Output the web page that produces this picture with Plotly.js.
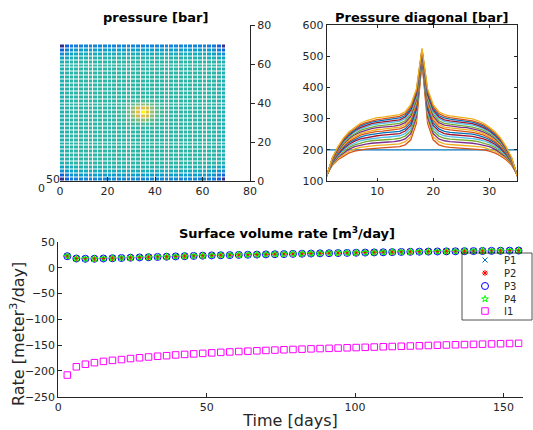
<!DOCTYPE html>
<html><head><meta charset="utf-8">
<script src="https://cdn.plot.ly/plotly-3.0.1.min.js"></script>
<style>html,body{margin:0;padding:0;background:#fff}#chart{width:533px;height:430px}</style>
</head><body><div id="chart"></div>
<script>
// ---------- pressure field (35 x 35 cells, cell size 2) ----------
var cellX = [1,3,5,7,9,11,13,15,17,19,21,23,25,27,29,31,33,35,37,39,41,43,45,47,49,51,53,55,57,59,61,63,65,67,69];
var cellY = [1,3,5,7,9,11,13,15,17,19,21,23,25,27,29,31,33,35,37,39,41,43,45,47,49,51,53,55,57,59,61,63,65,67,69];
var rowEdge  = [120,175,205,215,219,221,222,223,223,224,224,224,224,224,224,225,225,225,225,225,224,224,224,224,224,224,223,223,222,221,219,215,205,175,120];
var rowEdge2 = [175,215,240,252,257,259,260,261,261,262,262,262,262,262,262,263,263,263,263,263,262,262,262,262,262,262,261,261,260,259,257,252,240,215,175];
var rowEdge3 = [240,255,270,282,287,289,290,291,291,292,292,292,292,292,293,293,293,293,293,293,293,292,292,292,292,292,291,291,290,289,287,282,270,255,240];
var rowEdge4 = [270,282,292,298,303,305,306,307,307,308,308,308,308,308,308,309,309,309,309,309,308,308,308,308,308,308,307,307,306,305,303,298,292,282,270];
var rowInner = [300,310,314,316,317,318,318,318,318,318,318,318,318,318,318,318,318,318,318,318,318,318,318,318,318,318,318,318,318,318,317,316,314,310,300];
var rowNear3 = [300,310,314,316,317,318,318,318,318,318,318,318,319,321,324,328,334,338,334,328,324,321,319,318,318,318,318,318,318,318,317,316,314,310,300];
var rowNear2 = [300,310,314,316,317,318,318,318,318,318,318,319,321,325,332,345,365,375,365,345,332,325,321,319,318,318,318,318,318,318,317,316,314,310,300];
var rowNear1 = [300,310,314,316,317,318,318,318,318,318,318,320,323,330,345,375,420,445,420,375,345,330,323,320,318,318,318,318,318,318,317,316,314,310,300];
var rowCenter= [300,310,314,316,317,318,318,318,318,318,318,320,324,334,350,385,450,525,450,385,350,334,324,320,318,318,318,318,318,318,317,316,314,310,300];

// ---------- pressure along diagonal, one line per report step ----------
var diagIndex = [1,2,3,4,5,6,7,8,9,10,11,12,13,14,15,16,17,18,19,20,21,22,23,24,25,26,27,28,29,30,31,32,33,34,35];
var diag00 = [200,200,200,200,200,200,200,200,200,200,200,200,200,200,200,200,200,200,200,200,200,200,200,200,200,200,200,200,200,200,200,200,200,200,200];
var diag01 = [120,150,168,180,190,196,200,202,204,205,206,207,208,210,216,232,285,480,285,232,216,210,208,207,206,205,204,202,200,196,190,180,168,150,120];
var diag02 = [120,152,172,185,196,203,208,210,213,214,215,216,217,219,226,242,295,484,295,242,226,219,217,216,215,214,213,210,208,203,196,185,172,152,120];
var diag03 = [119,155,176,190,202,210,215,218,221,223,224,225,226,229,235,252,305,488,305,252,235,229,226,225,224,223,221,218,215,210,202,190,176,155,119];
var diag04 = [119,157,179,195,208,216,222,226,229,231,232,233,234,237,244,261,314,492,314,261,244,237,234,233,232,231,229,226,222,216,208,195,179,157,119];
var diag05 = [118,159,182,200,213,222,229,233,236,238,240,241,242,245,252,270,322,495,322,270,252,245,242,241,240,238,236,233,229,222,213,200,182,159,118];
var diag06 = [118,160,185,204,218,228,235,239,243,245,247,248,249,252,260,278,330,499,330,278,260,252,249,248,247,245,243,239,235,228,218,204,185,160,118];
var diag07 = [118,162,188,208,223,233,241,246,250,252,254,255,256,259,267,286,338,502,338,286,267,259,256,255,254,252,250,246,241,233,223,208,188,162,118];
var diag08 = [117,164,191,212,227,238,247,252,256,259,260,262,264,267,274,294,346,505,346,294,274,267,264,262,260,259,256,252,247,238,227,212,191,164,117];
var diag09 = [117,165,194,215,232,243,252,257,262,265,266,268,270,273,281,301,352,508,352,301,281,273,270,268,266,265,262,257,252,243,232,215,194,165,117];
var diag10 = [117,167,196,219,236,248,257,263,268,271,272,274,276,279,287,308,359,510,359,308,287,279,276,274,272,271,268,263,257,248,236,219,196,167,117];
var diag11 = [116,168,199,222,240,252,262,268,273,277,278,280,282,285,293,315,365,513,365,315,293,285,282,280,278,277,273,268,262,252,240,222,199,168,116];
var diag12 = [116,170,201,226,244,257,267,274,279,282,284,286,288,291,300,321,372,516,372,321,300,291,288,286,284,282,279,274,267,257,244,226,201,170,116];
var diag13 = [116,171,203,229,247,261,271,278,284,287,289,291,293,296,305,327,377,518,377,327,305,296,293,291,289,287,284,278,271,261,247,229,203,171,116];
var diag14 = [116,172,205,232,250,264,276,283,289,292,294,296,298,302,310,333,383,520,383,333,310,302,298,296,294,292,289,283,276,264,250,232,205,172,116];
var diag15 = [115,173,207,234,254,268,280,287,293,297,299,301,303,307,316,338,388,522,388,338,316,307,303,301,299,297,293,287,280,268,254,234,207,173,115];
var diag16 = [115,175,210,238,258,273,285,293,299,303,305,307,309,313,322,345,395,525,395,345,322,313,309,307,305,303,299,293,285,273,258,238,210,175,115];

// ---------- well rates ----------
var timeDays = [3.04,6.08,9.12,12.17,15.21,18.25,21.29,24.33,27.38,30.42,33.46,36.5,39.54,42.58,45.63,48.67,51.71,54.75,57.79,60.83,63.88,66.92,69.96,73,76.04,79.08,82.13,85.17,88.21,91.25,94.29,97.33,100.38,103.42,106.46,109.5,112.54,115.58,118.63,121.67,124.71,127.75,130.79,133.83,136.88,139.92,142.96,146,149.04,152.08,155.13];
var rateP1 = [22.5,18,17.5,17.5,18,18.5,19,19.5,20,20.5,21,21.5,22,22.5,23,23.5,24,24.3,24.6,25,25.3,25.6,26,26.3,26.6,27,27.3,27.6,28,28.3,28.6,28.9,29.2,29.5,29.8,30.1,30.4,30.7,31,31.2,31.4,31.6,31.8,32,32.2,32.4,32.6,32.8,33,33.2,33.4];
var rateP2 = [22.5,18,17.5,17.5,18,18.5,19,19.5,20,20.5,21,21.5,22,22.5,23,23.5,24,24.3,24.6,25,25.3,25.6,26,26.3,26.6,27,27.3,27.6,28,28.3,28.6,28.9,29.2,29.5,29.8,30.1,30.4,30.7,31,31.2,31.4,31.6,31.8,32,32.2,32.4,32.6,32.8,33,33.2,33.4];
var rateP3 = [22.5,18,17.5,17.5,18,18.5,19,19.5,20,20.5,21,21.5,22,22.5,23,23.5,24,24.3,24.6,25,25.3,25.6,26,26.3,26.6,27,27.3,27.6,28,28.3,28.6,28.9,29.2,29.5,29.8,30.1,30.4,30.7,31,31.2,31.4,31.6,31.8,32,32.2,32.4,32.6,32.8,33,33.2,33.4];
var rateP4 = [22.5,18,17.5,17.5,18,18.5,19,19.5,20,20.5,21,21.5,22,22.5,23,23.5,24,24.3,24.6,25,25.3,25.6,26,26.3,26.6,27,27.3,27.6,28,28.3,28.6,28.9,29.2,29.5,29.8,30.1,30.4,30.7,31,31.2,31.4,31.6,31.8,32,32.2,32.4,32.6,32.8,33,33.2,33.4];
var rateI1 = [-208,-192,-187,-184,-181.5,-179.5,-178,-176,-174.5,-173,-171.5,-170.5,-169,-168,-167,-166,-165,-164,-163.2,-162.4,-161.7,-161,-160.3,-159.6,-159,-158.4,-157.8,-157.2,-156.7,-156.2,-155.7,-155.2,-154.7,-154.2,-153.7,-153.2,-152.7,-152.2,-151.7,-151.2,-150.7,-150.2,-149.7,-149.3,-148.9,-148.5,-148.1,-147.7,-147.3,-146.9,-146.5];
var wellNames = ['P1','P2','P3','P4','I1'];

// ---------- build ----------
var pressureZ = [rowEdge,rowEdge2,rowEdge3,rowEdge4,
  rowInner,rowInner,rowInner,rowInner,rowInner,rowInner,rowInner,rowInner,rowInner,rowInner,
  rowNear3,rowNear2,rowNear1,rowCenter,rowNear1,rowNear2,rowNear3,
  rowInner,rowInner,rowInner,rowInner,rowInner,rowInner,rowInner,rowInner,rowInner,rowInner,
  rowEdge4,rowEdge3,rowEdge2,rowEdge];

var parula = [[0,'#352a87'],[0.125,'#0f5cdd'],[0.25,'#1481d6'],[0.375,'#06a4ca'],[0.5,'#2eb7a4'],[0.625,'#87bf77'],[0.75,'#d1bb59'],[0.875,'#fec832'],[1,'#f9fb0e']];
var matlabOrder = ['#0072BD','#D95319','#EDB120','#7E2F8E','#77AC30','#4DBEEE','#A2142F'];

var traces = [];
traces.push({type:'heatmap', x:cellX, y:cellY, z:pressureZ, colorscale:parula, zmin:115, zmax:525,
  xgap:1, ygap:1, showscale:false, xaxis:'x', yaxis:'y'});

var diagLines = [diag00,diag01,diag02,diag03,diag04,diag05,diag06,diag07,diag08,diag09,diag10,diag11,diag12,diag13,diag14,diag15,diag16];
diagLines.forEach(function(d,i){
  traces.push({type:'scatter', mode:'lines', x:diagIndex, y:d, xaxis:'x2', yaxis:'y2',
    line:{color:matlabOrder[i%7], width:1.3}, showlegend:false});
});

var markerStyles = [
  {symbol:'x-thin-open', size:5, color:'#0072BD'},
  {symbol:'asterisk-open', size:5, color:'#FF0000'},
  {symbol:'circle-open', size:7, color:'#0000FF'},
  {symbol:'star-open', size:5, color:'#00FF00'},
  {symbol:'square-open', size:6.5, color:'#FF00FF'}
];
var rates = [rateP1,rateP2,rateP3,rateP4,rateI1];
rates.forEach(function(r,i){
  var m = markerStyles[i];
  traces.push({type:'scatter', mode:'markers', name:wellNames[i], x:timeDays, y:r, xaxis:'x3', yaxis:'y3',
    marker:{symbol:m.symbol, size:m.size, color:m.color, line:{color:m.color, width:1}}, showlegend:false});
});

// compact legend: symbols on a hidden axis, labels as annotations
var legendRowPos = [7,20,33,46,58];
var annotations = [];
wellNames.forEach(function(n,i){
  var m = markerStyles[i];
  traces.push({type:'scatter', mode:'markers', x:[23], y:[legendRowPos[i]], xaxis:'x4', yaxis:'y4',
    marker:{symbol:m.symbol, size:m.size, color:m.color, line:{color:m.color, width:1}}, showlegend:false});
  annotations.push({xref:'x4', yref:'y4', x:40, y:legendRowPos[i], text:n, showarrow:false,
    xanchor:'left', yanchor:'middle', font:{size:10, color:'#262626'}});
});

var W = 533, H = 430;
function px(x){return x/W;}
function py(y){return (H-y)/H;}
var axCol = '#262626';
var tf = {size:11, color:axCol};

annotations.push({xref:'paper', yref:'paper', x:px(155), y:py(17), text:'<b>pressure [bar]</b>', showarrow:false, font:{size:13, color:'#000'}, xanchor:'center', yanchor:'middle'});
annotations.push({xref:'paper', yref:'paper', x:px(421.5), y:py(17), text:'<b>Pressure diagonal [bar]</b>', showarrow:false, font:{size:13, color:'#000'}, xanchor:'center', yanchor:'middle'});
annotations.push({xref:'paper', yref:'paper', x:px(287), y:py(233), text:'<b>Surface volume rate [m<sup>3</sup>/day]</b>', showarrow:false, font:{size:13, color:'#000'}, xanchor:'center', yanchor:'middle'});
annotations.push({xref:'paper', yref:'paper', x:px(53), y:py(179), text:'50', showarrow:false, font:tf, xanchor:'center', yanchor:'middle'});
annotations.push({xref:'paper', yref:'paper', x:px(41), y:py(189), text:'0', showarrow:false, font:tf, xanchor:'center', yanchor:'middle'});
annotations.push({xref:'paper', yref:'paper', x:px(17), y:py(334), text:'Rate [meter<sup>3</sup>/day]', textangle:-90, showarrow:false, font:{size:16, color:axCol}, xanchor:'center', yanchor:'middle'});

var layout = {
  width:W, height:H, margin:{l:0,r:0,t:0,b:0}, paper_bgcolor:'#fff', plot_bgcolor:'rgba(0,0,0,0)',
  font:{family:'DejaVu Sans, sans-serif', size:11, color:axCol},
  showlegend:false,
  xaxis:{domain:[px(60),px(250)], anchor:'y', range:[0,80], tickvals:[0,20,40,60,80], showline:true, linecolor:axCol, linewidth:1,
    ticks:'inside', ticklen:4, tickcolor:axCol, showgrid:false, zeroline:false, tickfont:tf},
  yaxis:{domain:[py(181),py(25)], anchor:'x', side:'right', range:[0,80], tickvals:[0,20,40,60,80], showline:true, linecolor:axCol, linewidth:1,
    ticks:'outside', ticklen:4, tickcolor:axCol, showgrid:false, zeroline:false, tickfont:tf},
  xaxis2:{domain:[px(326.7),px(517.3)], anchor:'y2', range:[1,35], tickvals:[10,20,30], showline:true, mirror:'ticks', linecolor:axCol, linewidth:1,
    ticks:'inside', ticklen:3, tickcolor:axCol, showgrid:false, zeroline:false, tickfont:tf},
  yaxis2:{domain:[py(181),py(25)], anchor:'x2', range:[100,600], tickvals:[100,200,300,400,500,600], showline:true, mirror:'ticks', linecolor:axCol, linewidth:1,
    ticks:'inside', ticklen:3, tickcolor:axCol, showgrid:false, zeroline:false, tickfont:tf},
  xaxis3:{domain:[px(58.3),px(522.7)], anchor:'y3', range:[0,156.5], tickvals:[0,50,100,150], showline:true, linecolor:axCol, linewidth:1,
    ticks:'inside', ticklen:4, tickcolor:axCol, showgrid:false, zeroline:false, tickfont:tf,
    title:{text:'Time [days]', font:{size:16, color:axCol}, standoff:3}},
  yaxis3:{domain:[py(396.7),py(242)], anchor:'x3', range:[-250,50], tickvals:[-250,-200,-150,-100,-50,0,50], showline:true, linecolor:axCol, linewidth:1,
    ticks:'inside', ticklen:4, tickcolor:axCol, showgrid:false, zeroline:false, tickfont:tf},
  xaxis4:{domain:[px(462),px(532)], anchor:'y4', range:[0,70], visible:false},
  yaxis4:{domain:[py(320),py(253)], anchor:'x4', range:[67,0], visible:false},
  shapes:[
    {type:'rect', xref:'paper', yref:'paper', x0:px(462), x1:px(532), y0:py(320), y1:py(253), fillcolor:'#fff', line:{width:0}, layer:'below'},
    {type:'rect', xref:'paper', yref:'paper', x0:px(462), x1:px(532), y0:py(320), y1:py(253), fillcolor:'rgba(0,0,0,0)', line:{color:axCol, width:0.8}, layer:'above'}
  ],
  annotations:annotations
};
Plotly.newPlot('chart', traces, layout, {staticPlot:true, displayModeBar:false});
</script></body></html>
